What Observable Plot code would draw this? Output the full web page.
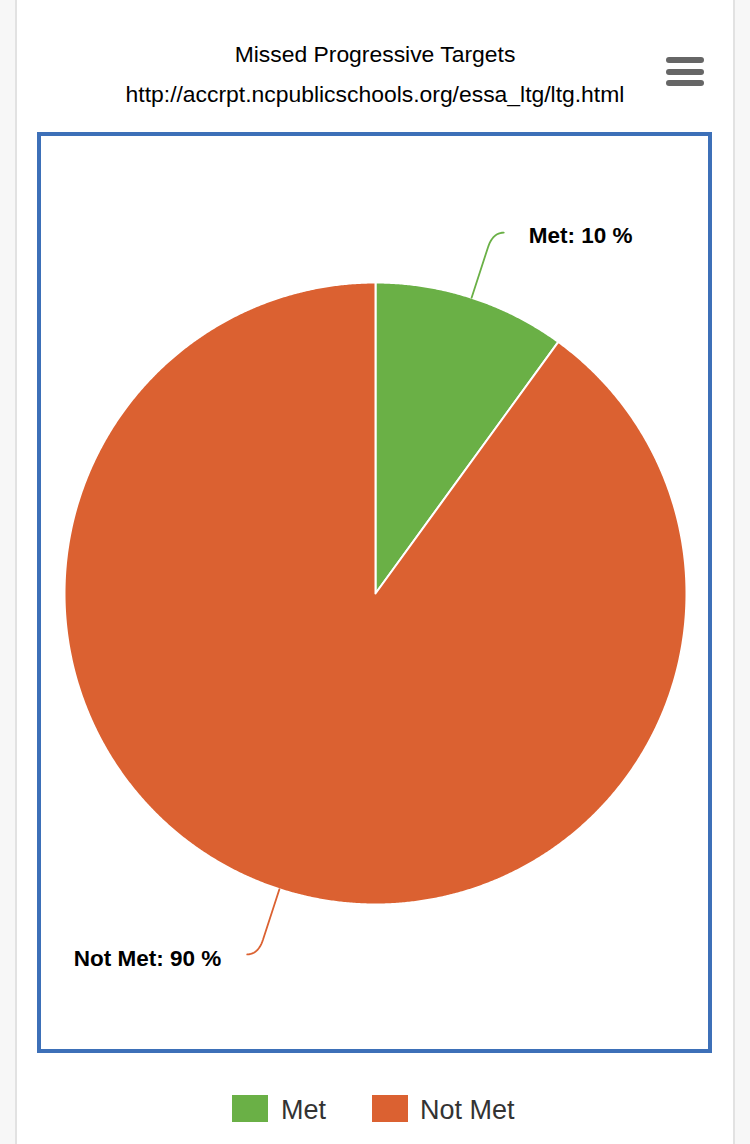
<!DOCTYPE html>
<html>
<head>
<meta charset="utf-8">
<script src="https://cdn.jsdelivr.net/npm/d3@7"></script>
<script src="https://cdn.jsdelivr.net/npm/@observablehq/plot@0.6"></script>
<style>
  html, body { margin: 0; padding: 0; background: #fff; }
  body { width: 750px; height: 1144px; position: relative; overflow: hidden; font-family: "Liberation Sans", Arial, sans-serif; }
  .side-l { position: absolute; left: 0; top: 0; width: 15px; height: 1144px; background: #f7f7f7; border-right: 2px solid #e2e2e2; }
  .side-r { position: absolute; left: 733px; top: 0; width: 17px; height: 1144px; background: #f7f7f7; border-left: 2px solid #e2e2e2; box-sizing: border-box; }
  .title { position: absolute; left: 0; width: 750px; text-align: center; color: #000; font-size: 22.9px; white-space: nowrap; }
  .burger { position: absolute; left: 666px; width: 38px; height: 6px; border-radius: 3px; background: #666; }
  #chart { position: absolute; left: 0; top: 132px; }
  .frame { position: absolute; left: 37px; top: 132px; width: 675px; height: 921px; box-sizing: border-box; border: 4.5px solid #3d70b8; pointer-events: none; }
  .legend { position: absolute; top: 1095px; left: 0; width: 750px; height: 30px; }
  .sw { position: absolute; top: 0; width: 36px; height: 27px; }
  .lt { position: absolute; top: -1px; font-size: 27px; color: #333; white-space: nowrap; line-height: 32px; }
</style>
</head>
<body>
<div class="side-l"></div>
<div class="side-r"></div>
<div class="title" style="top:41px;">Missed Progressive Targets</div>
<div class="title" style="top:81px;">http://accrpt.ncpublicschools.org/essa_ltg/ltg.html</div>
<div class="burger" style="top:57px;"></div>
<div class="burger" style="top:69px;"></div>
<div class="burger" style="top:80px;"></div>
<div id="chart"></div>
<div class="frame"></div>
<div class="legend" id="legend"></div>
<script>
// ---- data ----
const categories = ["Met", "Not Met"];
const values = [10, 90];
const colors = ["#6ab046", "#db6131"];
const labels = ["Met: 10 %", "Not Met: 90 %"];

// ---- layout ----
const W = 750, H = 921;
const cx = 375, cy = 461;   // pie centre inside the svg
const R = 311;

const pie = d3.pie().sort(null).value(d => d.value)(categories.map((c, i) => ({cat: c, value: values[i]})));

const slicePts = [];
const connPts = [];
const labelPts = [];
pie.forEach((p, i) => {
  const cat = p.data.cat;
  slicePts.push({cat, x: 0, y: 0});
  const n = Math.max(2, Math.ceil((p.endAngle - p.startAngle) / 0.005));
  for (let k = 0; k <= n; k++) {
    const a = p.startAngle + (p.endAngle - p.startAngle) * k / n;
    slicePts.push({cat, x: R * Math.sin(a), y: R * Math.cos(a)});
  }
  slicePts.push({cat, x: 0, y: 0});
  // connector
  const m = (p.startAngle + p.endAngle) / 2;
  const sx = Math.sin(m), sy = Math.cos(m);
  const side = sx >= 0 ? 1 : -1;
  const A = [R * sx, R * sy];
  const B = [R * 1.17 * sx, R * 1.17 * sy];
  const C = [R * 1.22 * sx, R * 1.22 * sy];
  const D = [C[0] + side * 11, C[1]];
  connPts.push({cat, x: A[0], y: A[1]});
  for (let k = 0; k <= 12; k++) {
    const t = k / 12;
    const x = (1 - t) * (1 - t) * B[0] + 2 * (1 - t) * t * C[0] + t * t * D[0];
    const y = (1 - t) * (1 - t) * B[1] + 2 * (1 - t) * t * C[1] + t * t * D[1];
    connPts.push({cat, x, y});
  }
  labelPts.push({cat, x: D[0], y: D[1], side, text: labels[i]});
});

const marks = [];
categories.forEach((c, i) => {
  marks.push(Plot.line(slicePts.filter(d => d.cat === c), {x: "x", y: "y", fill: colors[i], stroke: "#fff", strokeWidth: 2, strokeLinejoin: "round"}));
});
categories.forEach((c, i) => {
  marks.push(Plot.line(connPts.filter(d => d.cat === c), {x: "x", y: "y", stroke: colors[i], strokeWidth: 1.8}));
});
marks.push(Plot.text(labelPts.filter(d => d.side > 0), {x: "x", y: "y", text: "text", textAnchor: "start", dx: 25, dy: 3, fontSize: 22.5, fontWeight: "bold", fill: "#000"}));
marks.push(Plot.text(labelPts.filter(d => d.side < 0), {x: "x", y: "y", text: "text", textAnchor: "end", dx: -26, dy: 4, fontSize: 22.5, fontWeight: "bold", fill: "#000"}));

const chart = Plot.plot({
  width: W, height: H,
  margin: 0,
  x: {domain: [-cx, W - cx], range: [0, W], axis: null},
  y: {domain: [-(H - cy), cy], range: [H, 0], axis: null},
  style: {fontFamily: "'Liberation Sans', Arial, sans-serif", background: "transparent", overflow: "visible"},
  marks
});
document.getElementById("chart").appendChild(chart);

// legend
const legend = document.getElementById("legend");
const swX = [232, 372];
const txX = [281, 420];
categories.forEach((c, i) => {
  const sw = document.createElement("div");
  sw.className = "sw"; sw.style.left = swX[i] + "px"; sw.style.background = colors[i];
  legend.appendChild(sw);
  const t = document.createElement("div");
  t.className = "lt"; t.style.left = txX[i] + "px"; t.textContent = c;
  legend.appendChild(t);
});
</script>
</body>
</html>
